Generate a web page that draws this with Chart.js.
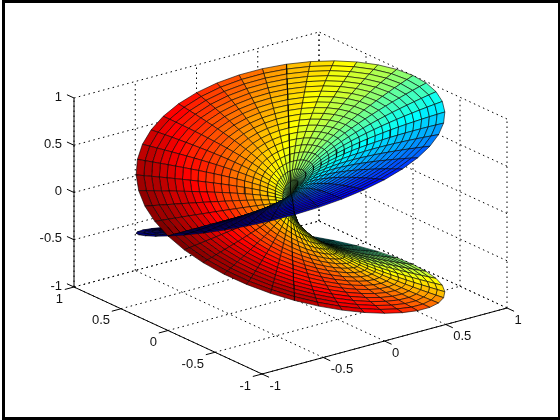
<!DOCTYPE html>
<html>
<head>
<meta charset="utf-8">
<style>
html,body{margin:0;padding:0;background:#fff}
#wrap{position:absolute;left:0;top:0;width:560px;height:420px}
</style>
<script src="https://cdn.jsdelivr.net/npm/chart.js@4"></script>
</head>
<body>
<div id="wrap"><canvas id="c" width="560" height="420"></canvas></div>
<script>
// ---- Values ----
const tickValues = [-1, -0.5, 0, 0.5, 1];
const tickLabels = ['-1', '-0.5', '0', '0.5', '1'];
const radii = [0, 0.05, 0.1, 0.15, 0.2, 0.25, 0.3, 0.35, 0.4, 0.45, 0.5, 0.55, 0.6, 0.65, 0.7, 0.75, 0.8, 0.85, 0.9, 0.95, 1];
const rootRadii = [0, 0.2236, 0.3162, 0.3873, 0.4472, 0.5, 0.5477, 0.5916, 0.6325, 0.6708, 0.7071, 0.7416, 0.7746, 0.8062, 0.8367, 0.866, 0.8944, 0.922, 0.9487, 0.9747, 1];
const rimX = [1, .9877, .9511, .891, .809, .7071, .5878, .454, .309, .1564, 0, -.1564, -.309, -.454, -.5878, -.7071, -.809, -.891, -.9511, -.9877, -1, -.9877, -.9511, -.891, -.809, -.7071, -.5878, -.454, -.309, -.1564, 0, .1564, .309, .454, .5878, .7071, .809, .891, .9511, .9877, 1, .9877, .9511, .891, .809, .7071, .5878, .454, .309, .1564, 0, -.1564, -.309, -.454, -.5878, -.7071, -.809, -.891, -.9511, -.9877, -1, -.9877, -.9511, -.891, -.809, -.7071, -.5878, -.454, -.309, -.1564, 0, .1564, .309, .454, .5878, .7071, .809, .891, .9511, .9877, 1];
const rimY = [0, .1564, .309, .454, .5878, .7071, .809, .891, .9511, .9877, 1, .9877, .9511, .891, .809, .7071, .5878, .454, .309, .1564, 0, -.1564, -.309, -.454, -.5878, -.7071, -.809, -.891, -.9511, -.9877, -1, -.9877, -.9511, -.891, -.809, -.7071, -.5878, -.454, -.309, -.1564, 0, .1564, .309, .454, .5878, .7071, .809, .891, .9511, .9877, 1, .9877, .9511, .891, .809, .7071, .5878, .454, .309, .1564, 0, -.1564, -.309, -.454, -.5878, -.7071, -.809, -.891, -.9511, -.9877, -1, -.9877, -.9511, -.891, -.809, -.7071, -.5878, -.454, -.309, -.1564, 0];
const rimHeight = [-1, -.9969, -.9877, -.9724, -.9511, -.9239, -.891, -.8526, -.809, -.7604, -.7071, -.6494, -.5878, -.5225, -.454, -.3827, -.309, -.2334, -.1564, -.0785, 0, .0785, .1564, .2334, .309, .3827, .454, .5225, .5878, .6494, .7071, .7604, .809, .8526, .891, .9239, .9511, .9724, .9877, .9969, 1, .9969, .9877, .9724, .9511, .9239, .891, .8526, .809, .7604, .7071, .6494, .5878, .5225, .454, .3827, .309, .2334, .1564, .0785, 0, -.0785, -.1564, -.2334, -.309, -.3827, -.454, -.5225, -.5878, -.6494, -.7071, -.7604, -.809, -.8526, -.891, -.9239, -.9511, -.9724, -.9877, -.9969, -1];
const rimTone = [0, -.0785, -.1564, -.2334, -.309, -.3827, -.454, -.5225, -.5878, -.6494, -.7071, -.7604, -.809, -.8526, -.891, -.9239, -.9511, -.9724, -.9877, -.9969, -1, -.9969, -.9877, -.9724, -.9511, -.9239, -.891, -.8526, -.809, -.7604, -.7071, -.6494, -.5878, -.5225, -.454, -.3827, -.309, -.2334, -.1564, -.0785, 0, .0785, .1564, .2334, .309, .3827, .454, .5225, .5878, .6494, .7071, .7604, .809, .8526, .891, .9239, .9511, .9724, .9877, .9969, 1, .9969, .9877, .9724, .9511, .9239, .891, .8526, .809, .7604, .7071, .6494, .5878, .5225, .454, .3827, .309, .2334, .1564, .0785, 0];

// ---- View of the 3-D box on the flat chart plane ----
const view = {ox: 262, oy: 374, xx: 122.5, xy: -33, yx: -94, yy: -43.5, zy: -94.5};
const viewer = [-0.527, -0.687, 0.5];
function project(x, y, z) {
  return {
    x: view.ox + (x + 1) * view.xx + (y + 1) * view.yx,
    y: view.oy + (x + 1) * view.xy + (y + 1) * view.yy + (z + 1) * view.zy
  };
}
function jet(v) {
  const level = Math.min(63, Math.floor((v + 1) / 2 * 64));
  const t = (level + 1) / 64;
  const ch = c => Math.round(255 * Math.max(0, Math.min(1, 1.5 - Math.abs(4 * t - c))));
  return `rgb(${ch(3)},${ch(2)},${ch(1)})`;
}

// ---- Surface cells ----
function vertex(i, j) {
  return [radii[i] * rimX[j], radii[i] * rimY[j], rootRadii[i] * rimHeight[j]];
}
const cells = [];
for (let j = 0; j < rimX.length - 1; j++) {
  for (let i = 0; i < radii.length - 1; i++) {
    const corners = [vertex(i, j), vertex(i + 1, j), vertex(i + 1, j + 1), vertex(i, j + 1)];
    let depth = 0;
    corners.forEach(c => { depth += c[0] * viewer[0] + c[1] * viewer[1] + c[2] * viewer[2]; });
    const pts = corners.concat([corners[0]]).map(c => project(c[0], c[1], c[2]));
    cells.push({depth, pts, colour: jet(rootRadii[i] * rimTone[j])});
  }
}
cells.sort((a, b) => b.depth - a.depth); // nearest first: Chart.js paints the last dataset first

const datasets = cells.map(c => ({
  data: c.pts, showLine: true, fill: 'shape', tension: 0,
  backgroundColor: c.colour, borderColor: '#000', borderWidth: 0.6,
  pointRadius: 0, borderJoinStyle: 'bevel'
}));

// ---- Box: axes and dotted grid ----
function boxLine(a, b, dotted) {
  return {
    data: [project(a[0], a[1], a[2]), project(b[0], b[1], b[2])],
    showLine: true, fill: false, tension: 0, borderColor: '#000',
    borderWidth: 1, pointRadius: 0, borderDash: dotted ? [1.5, 3.5] : []
  };
}
const boxLines = [];
tickValues.forEach(v => {
  boxLines.push(boxLine([v, -1, -1], [v, 1, -1], true));   // floor
  boxLines.push(boxLine([-1, v, -1], [1, v, -1], true));
  boxLines.push(boxLine([v, 1, -1], [v, 1, 1], true));     // back-left wall
  boxLines.push(boxLine([-1, 1, v], [1, 1, v], true));
  boxLines.push(boxLine([1, v, -1], [1, v, 1], true));     // back-right wall
  boxLines.push(boxLine([1, -1, v], [1, 1, v], true));
});
const axisLines = [
  boxLine([-1, -1, -1], [1, -1, -1], false),
  boxLine([-1, -1, -1], [-1, 1, -1], false),
  boxLine([-1, 1, -1], [-1, 1, 1], false)
];
// Tick marks as short stubs in data units along the box edges
const stub = 0.075;
tickValues.forEach(v => {
  axisLines.push(boxLine([v, -1, -1], [v, -1 - stub, -1], false));
  axisLines.push(boxLine([-1, v, -1], [-1 - stub, v, -1], false));
  axisLines.push(boxLine([-1, 1, v], [-1, 1 + stub, v], false));
});
datasets.push(...axisLines, ...boxLines);

const labelsPlugin = {
  id: 'boxLabels',
  afterDraw(chart) {
    const {ctx, scales} = chart;
    const px = p => [scales.x.getPixelForValue(p.x), scales.y.getPixelForValue(p.y)];
    ctx.save();
    ctx.fillStyle = '#111';
    ctx.font = '13px "Liberation Sans", Arial, sans-serif';
    ctx.textBaseline = 'middle';
    tickValues.forEach((v, n) => {
      let p = px(project(-1, 1, v));
      ctx.textAlign = 'right';
      ctx.fillText(tickLabels[n], p[0] - 12, p[1] - 1);
      p = px(project(-1, v, -1));
      ctx.fillText(tickLabels[n], p[0] - 11, p[1] + 12);
      p = px(project(v, -1, -1));
      ctx.textAlign = 'left';
      ctx.fillText(tickLabels[n], p[0] + 7.5, p[1] + 12);
    });
    ctx.fillStyle = '#000';
    ctx.fillRect(2, 0, 558, 3);
    ctx.fillRect(2, 417, 558, 3);
    ctx.fillRect(2, 0, 3, 420);
    ctx.fillRect(558, 0, 2, 420);
    ctx.restore();
  }
};

new Chart(document.getElementById('c'), {
  type: 'scatter',
  data: {datasets},
  plugins: [labelsPlugin],
  options: {
    responsive: false,
    animation: false,
    events: [],
    layout: {padding: 0},
    plugins: {legend: {display: false}, tooltip: {enabled: false}, title: {display: false}},
    scales: {
      x: {type: 'linear', min: 0, max: 560, display: false},
      y: {type: 'linear', min: 0, max: 420, reverse: true, display: false}
    }
  }
});
</script>
</body>
</html>
